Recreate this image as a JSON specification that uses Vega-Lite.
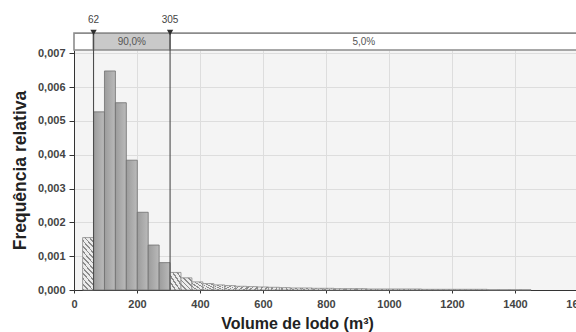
{
  "$schema": "https://vega.github.io/schema/vega-lite/v6.json",
  "width": 504,
  "height": 240,
  "autosize": "none",
  "padding": {"left": 74, "top": 50, "right": 0, "bottom": 42},
  "background": "white",
  "config": {
    "locale": {"number": {"decimal": ",", "thousands": ".", "grouping": [3], "currency": ["", ""]}},
    "view": {"fill": "#f4f4f4", "stroke": null},
    "font": "Liberation Sans"
  },
  "datasets": {
    "barras": [
      {"ini": 27.3, "fim": 62, "freq": 0.00155, "zona": "esquerda"},
      {"ini": 62, "fim": 96.7, "freq": 0.00527, "zona": "centro"},
      {"ini": 96.7, "fim": 131.4, "freq": 0.00648, "zona": "centro"},
      {"ini": 131.4, "fim": 166.1, "freq": 0.00554, "zona": "centro"},
      {"ini": 166.1, "fim": 200.9, "freq": 0.00384, "zona": "centro"},
      {"ini": 200.9, "fim": 235.6, "freq": 0.0023, "zona": "centro"},
      {"ini": 235.6, "fim": 270.3, "freq": 0.00133, "zona": "centro"},
      {"ini": 270.3, "fim": 305, "freq": 0.00081, "zona": "centro"},
      {"ini": 305, "fim": 339.7, "freq": 0.00052, "zona": "direita"},
      {"ini": 339.7, "fim": 374.4, "freq": 0.00036, "zona": "direita"},
      {"ini": 374.4, "fim": 409.1, "freq": 0.00024, "zona": "direita"},
      {"ini": 409.1, "fim": 443.9, "freq": 0.00019, "zona": "direita"},
      {"ini": 443.9, "fim": 478.6, "freq": 0.00015, "zona": "direita"},
      {"ini": 478.6, "fim": 513.3, "freq": 0.00013, "zona": "direita"},
      {"ini": 513.3, "fim": 548, "freq": 0.00011, "zona": "direita"},
      {"ini": 548, "fim": 582.7, "freq": 0.0001, "zona": "direita"},
      {"ini": 582.7, "fim": 617.4, "freq": 0.00009, "zona": "direita"},
      {"ini": 617.4, "fim": 652.1, "freq": 0.00008, "zona": "direita"},
      {"ini": 652.1, "fim": 686.9, "freq": 0.00007, "zona": "direita"},
      {"ini": 686.9, "fim": 721.6, "freq": 0.00006, "zona": "direita"},
      {"ini": 721.6, "fim": 756.3, "freq": 0.00006, "zona": "direita"},
      {"ini": 756.3, "fim": 791, "freq": 0.00005, "zona": "direita"},
      {"ini": 791, "fim": 825.7, "freq": 0.00005, "zona": "direita"},
      {"ini": 825.7, "fim": 860.4, "freq": 0.00004, "zona": "direita"},
      {"ini": 860.4, "fim": 895.1, "freq": 0.00004, "zona": "direita"},
      {"ini": 895.1, "fim": 929.9, "freq": 0.00004, "zona": "direita"},
      {"ini": 929.9, "fim": 964.6, "freq": 0.00003, "zona": "direita"},
      {"ini": 964.6, "fim": 999.3, "freq": 0.00003, "zona": "direita"},
      {"ini": 999.3, "fim": 1034, "freq": 0.00003, "zona": "direita"},
      {"ini": 1034, "fim": 1068.7, "freq": 0.00003, "zona": "direita"},
      {"ini": 1068.7, "fim": 1103.4, "freq": 0.00003, "zona": "direita"},
      {"ini": 1103.4, "fim": 1138.1, "freq": 0.00002, "zona": "direita"},
      {"ini": 1138.1, "fim": 1172.9, "freq": 0.00002, "zona": "direita"},
      {"ini": 1172.9, "fim": 1207.6, "freq": 0.00002, "zona": "direita"},
      {"ini": 1207.6, "fim": 1242.3, "freq": 0.00002, "zona": "direita"},
      {"ini": 1242.3, "fim": 1277, "freq": 0.00002, "zona": "direita"},
      {"ini": 1277, "fim": 1311.7, "freq": 0.00002, "zona": "direita"},
      {"ini": 1311.7, "fim": 1346.4, "freq": 0.00001, "zona": "direita"},
      {"ini": 1346.4, "fim": 1381.1, "freq": 0.00001, "zona": "direita"},
      {"ini": 1381.1, "fim": 1415.9, "freq": 0.00001, "zona": "direita"},
      {"ini": 1415.9, "fim": 1450.6, "freq": 0.00001, "zona": "direita"}
    ],
    "faixas": [
      {"ini": 0, "fim": 62, "meio": 31, "faixa": "inferior", "texto": ""},
      {"ini": 62, "fim": 305, "meio": 183.5, "faixa": "central", "texto": "90,0%"},
      {"ini": 305, "fim": 1600, "meio": 920, "faixa": "superior", "texto": "5,0%"}
    ],
    "limites": [
      {"v": 62, "rotulo": "62"},
      {"v": 305, "rotulo": "305"}
    ]
  },
  "encoding": {
    "x": {
      "type": "quantitative",
      "scale": {"domain": [0, 1600], "nice": false},
      "axis": {
        "values": [0, 200, 400, 600, 800, 1000, 1200, 1400, 1600],
        "format": "d",
        "grid": true, "gridColor": "#dddddd", "gridWidth": 1,
        "domainColor": "#333333", "tickColor": "#333333", "tickSize": 3,
        "labelFont": "Liberation Sans",
        "labelFontWeight": "bold", "labelFontSize": 11, "labelColor": "#444444",
        "labelPadding": 5, "labelFlush": false, "labelOverlap": false,
        "title": "Volume de lodo (m³)",
        "titleFont": "Liberation Sans", "titleFontSize": 16, "titleFontWeight": "bold",
        "titleColor": "#222222", "titleX": 223, "titleY": 38,
        "titleAlign": "center", "titleBaseline": "alphabetic"
      }
    },
    "y": {
      "type": "quantitative",
      "scale": {"domain": [0, 0.0071], "nice": false},
      "axis": {
        "values": [0, 0.001, 0.002, 0.003, 0.004, 0.005, 0.006, 0.007],
        "format": ".3f",
        "grid": true, "gridColor": "#dddddd", "gridWidth": 1,
        "domainColor": "#333333", "tickColor": "#333333", "tickSize": 5,
        "labelFont": "Liberation Sans",
        "labelFontWeight": "bold", "labelFontSize": 11, "labelColor": "#444444",
        "labelPadding": 4,
        "title": "Frequência relativa",
        "titleFont": "Liberation Sans", "titleFontSize": 17.5, "titleFontWeight": "bold",
        "titleColor": "#222222", "titleX": -54, "titleY": 120, "titleAngle": 270,
        "titleAlign": "center", "titleBaseline": "middle"
      }
    }
  },
  "layer": [
    {
      "data": {"name": "barras"},
      "transform": [{"filter": "datum.zona === 'centro'"}],
      "mark": {
        "type": "rect",
        "stroke": "#6e6e6e",
        "strokeWidth": 0.8,
        "fill": {"gradient": "linear", "x1": 0, "y1": 0, "x2": 1, "y2": 0,
          "stops": [{"offset": 0, "color": "#9c9c9c"}, {"offset": 1, "color": "#bababa"}]}
      },
      "encoding": {
        "x": {"field": "ini"},
        "x2": {"field": "fim"},
        "y": {"field": "freq"},
        "y2": {"datum": 0}
      }
    },
    {
      "data": {"name": "barras"},
      "transform": [{"filter": "datum.zona === 'esquerda'"}],
      "mark": {
        "type": "rect",
        "stroke": "#8a8a8a",
        "strokeWidth": 0.8,
        "fill": {"gradient": "linear", "x1": 0, "y1": 1, "x2": 0.281, "y2": -0.1725,
          "stops": [
            {"offset": 0, "color": "#8c8c8c"}, {"offset": 0.028, "color": "#8c8c8c"}, {"offset": 0.028, "color": "#ececec"}, {"offset": 0.0833, "color": "#ececec"},
            {"offset": 0.0833, "color": "#8c8c8c"}, {"offset": 0.1113, "color": "#8c8c8c"}, {"offset": 0.1113, "color": "#ececec"}, {"offset": 0.1667, "color": "#ececec"},
            {"offset": 0.1667, "color": "#8c8c8c"}, {"offset": 0.1947, "color": "#8c8c8c"}, {"offset": 0.1947, "color": "#ececec"}, {"offset": 0.25, "color": "#ececec"},
            {"offset": 0.25, "color": "#8c8c8c"}, {"offset": 0.278, "color": "#8c8c8c"}, {"offset": 0.278, "color": "#ececec"}, {"offset": 0.3333, "color": "#ececec"},
            {"offset": 0.3333, "color": "#8c8c8c"}, {"offset": 0.3613, "color": "#8c8c8c"}, {"offset": 0.3613, "color": "#ececec"}, {"offset": 0.4167, "color": "#ececec"},
            {"offset": 0.4167, "color": "#8c8c8c"}, {"offset": 0.4447, "color": "#8c8c8c"}, {"offset": 0.4447, "color": "#ececec"}, {"offset": 0.5, "color": "#ececec"},
            {"offset": 0.5, "color": "#8c8c8c"}, {"offset": 0.528, "color": "#8c8c8c"}, {"offset": 0.528, "color": "#ececec"}, {"offset": 0.5833, "color": "#ececec"},
            {"offset": 0.5833, "color": "#8c8c8c"}, {"offset": 0.6113, "color": "#8c8c8c"}, {"offset": 0.6113, "color": "#ececec"}, {"offset": 0.6667, "color": "#ececec"},
            {"offset": 0.6667, "color": "#8c8c8c"}, {"offset": 0.6947, "color": "#8c8c8c"}, {"offset": 0.6947, "color": "#ececec"}, {"offset": 0.75, "color": "#ececec"},
            {"offset": 0.75, "color": "#8c8c8c"}, {"offset": 0.778, "color": "#8c8c8c"}, {"offset": 0.778, "color": "#ececec"}, {"offset": 0.8333, "color": "#ececec"},
            {"offset": 0.8333, "color": "#8c8c8c"}, {"offset": 0.8613, "color": "#8c8c8c"}, {"offset": 0.8613, "color": "#ececec"}, {"offset": 0.9167, "color": "#ececec"},
            {"offset": 0.9167, "color": "#8c8c8c"}, {"offset": 0.9447, "color": "#8c8c8c"}, {"offset": 0.9447, "color": "#ececec"}, {"offset": 1, "color": "#ececec"}
          ]}
      },
      "encoding": {
        "x": {"field": "ini"},
        "x2": {"field": "fim"},
        "y": {"field": "freq"},
        "y2": {"datum": 0}
      }
    },
    {
      "data": {"name": "barras"},
      "transform": [{"filter": "datum.zona === 'direita'"}],
      "mark": {
        "type": "rect",
        "stroke": "#8a8a8a",
        "strokeWidth": 0.8,
        "fill": {"gradient": "linear", "x1": 0, "y1": 1, "x2": 0.955, "y2": -0.041,
          "stops": [
            {"offset": 0, "color": "#8c8c8c"}, {"offset": 0.07, "color": "#8c8c8c"}, {"offset": 0.07, "color": "#ececec"}, {"offset": 0.2, "color": "#ececec"},
            {"offset": 0.2, "color": "#8c8c8c"}, {"offset": 0.27, "color": "#8c8c8c"}, {"offset": 0.27, "color": "#ececec"}, {"offset": 0.4, "color": "#ececec"},
            {"offset": 0.4, "color": "#8c8c8c"}, {"offset": 0.47, "color": "#8c8c8c"}, {"offset": 0.47, "color": "#ececec"}, {"offset": 0.6, "color": "#ececec"},
            {"offset": 0.6, "color": "#8c8c8c"}, {"offset": 0.67, "color": "#8c8c8c"}, {"offset": 0.67, "color": "#ececec"}, {"offset": 0.8, "color": "#ececec"},
            {"offset": 0.8, "color": "#8c8c8c"}, {"offset": 0.87, "color": "#8c8c8c"}, {"offset": 0.87, "color": "#ececec"}, {"offset": 1, "color": "#ececec"}
          ]}
      },
      "encoding": {
        "x": {"field": "ini"},
        "x2": {"field": "fim"},
        "y": {"field": "freq"},
        "y2": {"datum": 0}
      }
    },
    {
      "data": {"name": "faixas"},
      "mark": {"type": "rect", "stroke": "#8c8c8c", "strokeWidth": 1.6},
      "encoding": {
        "x": {"field": "ini"},
        "x2": {"field": "fim"},
        "y": {"datum": 0.0071},
        "y2": {"datum": 0.0076},
        "color": {
          "field": "faixa", "type": "nominal", "legend": null,
          "scale": {"domain": ["inferior", "central", "superior"], "range": ["#ffffff", "#c9c9c9", "#ffffff"]}
        }
      }
    },
    {
      "data": {"name": "faixas"},
      "mark": {
        "type": "text", "align": "center", "baseline": "middle",
        "font": "Liberation Sans",
        "fontSize": 10, "color": "#555555"
      },
      "encoding": {
        "x": {"field": "meio"},
        "y": {"datum": 0.00734},
        "text": {"field": "texto"}
      }
    },
    {
      "data": {"name": "limites"},
      "mark": {"type": "rule", "color": "#4d4d4d", "strokeWidth": 1.1},
      "encoding": {
        "x": {"field": "v"},
        "y": {"datum": 0},
        "y2": {"datum": 0.0076}
      }
    },
    {
      "data": {"name": "limites"},
      "mark": {"type": "point", "shape": "triangle-down", "filled": true, "size": 40, "color": "#2e2e2e", "opacity": 1},
      "encoding": {
        "x": {"field": "v"},
        "y": {"datum": 0.00762}
      }
    },
    {
      "data": {"name": "limites"},
      "mark": {
        "type": "text", "align": "center", "baseline": "middle",
        "font": "Liberation Sans",
        "fontSize": 10, "color": "#444444"
      },
      "encoding": {
        "x": {"field": "v"},
        "y": {"datum": 0.008},
        "text": {"field": "rotulo"}
      }
    }
  ]
}
